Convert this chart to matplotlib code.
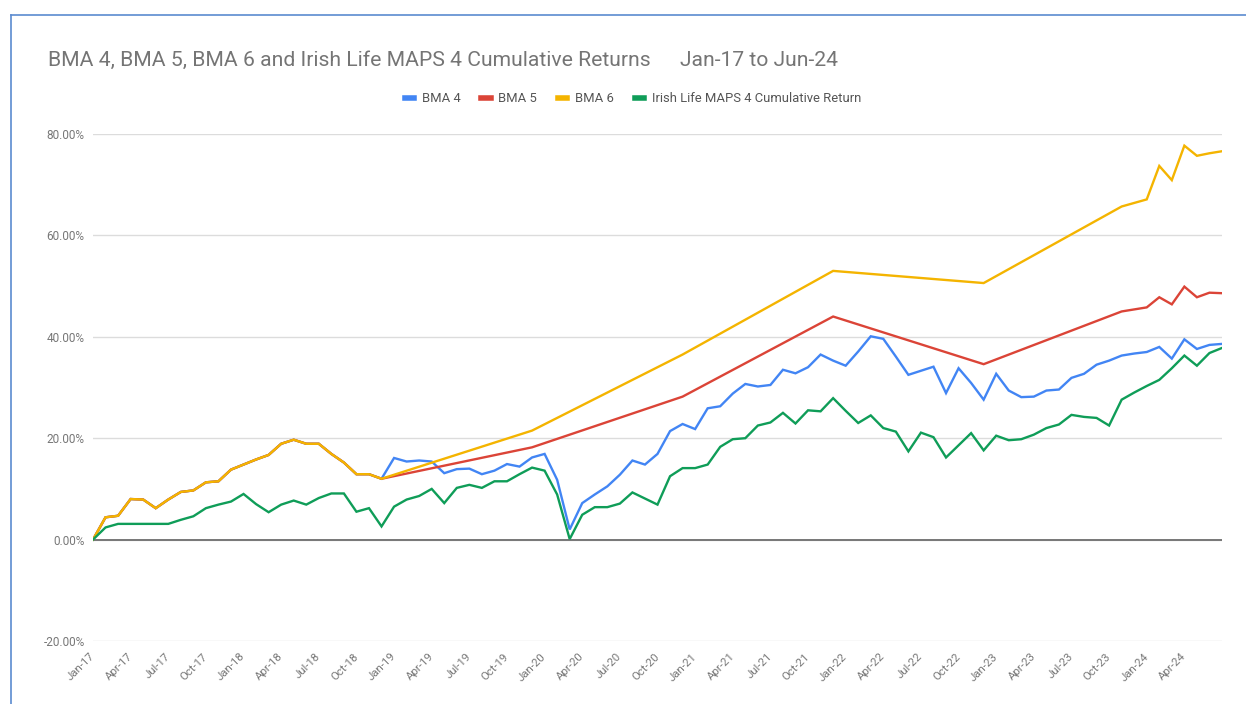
import numpy as np
import pandas as pd
import matplotlib
matplotlib.use("Agg")
from matplotlib import pyplot as plt
from matplotlib.lines import Line2D

plt.rcParams['font.family'] = ['Roboto', 'DejaVu Sans']

# monthly categories on the x axis
months = pd.date_range("2017-01-01", periods=91, freq="MS").strftime("%b-%y").tolist()

# Jan-17 .. Dec-18, the three BMA series share these values (drawn on top of each other)
bma_early = [0, 4.4, 4.7, 8.0, 7.9, 6.2, 7.9, 9.4, 9.7, 11.3, 11.5, 13.8,
             14.8, 15.8, 16.7, 18.9, 19.7, 18.9, 18.9, 16.9, 15.2, 12.9, 12.9, 12.0]

# BMA 4 from Jan-19 onwards (monthly)
bma4_late = [16.1, 15.4, 15.6, 15.4, 13.1, 13.9, 14.0, 12.9, 13.6, 14.9, 14.4, 16.2,
             16.9, 11.8, 2.0, 7.2, 8.9, 10.5, 12.8, 15.6, 14.8, 16.9, 21.4, 22.8,
             21.8, 25.9, 26.3, 28.8, 30.7, 30.2, 30.5, 33.5, 32.8, 34.0, 36.5, 35.3,
             34.3, 37.1, 40.1, 39.6, 36.1, 32.5, 33.3, 34.1, 28.9, 33.8, 30.9, 27.6,
             32.7, 29.4, 28.1, 28.2, 29.4, 29.6, 31.9, 32.7, 34.5, 35.3, 36.3, 36.7,
             37.0, 38.0, 35.7, 39.5, 37.6, 38.4, 38.6]

# BMA 5 / BMA 6 only have sparse points after Dec-18 (gaps are joined)
sparse_idx = [35, 47, 59, 71, 82, 84, 85, 86, 87, 88, 89, 90]
bma5_late = [18.2, 28.2, 44.0, 34.6, 45.0, 45.8, 47.8, 46.4, 49.9, 47.8, 48.7, 48.6]
bma6_late = [21.5, 36.5, 53.0, 50.6, 65.7, 67.1, 73.7, 70.9, 77.7, 75.7, 76.2, 76.6]

irish_life = [0, 2.4, 3.1, 3.1, 3.1, 3.1, 3.1, 3.9, 4.6, 6.2, 6.9, 7.5,
              9.0, 7.0, 5.4, 6.9, 7.7, 6.9, 8.2, 9.1, 9.1, 5.5, 6.2, 2.6,
              6.5, 7.9, 8.6, 10.0, 7.2, 10.2, 10.8, 10.2, 11.5, 11.5, 12.9, 14.2,
              13.6, 8.9, 0.1, 4.9, 6.4, 6.4, 7.1, 9.3, 8.1, 6.9, 12.5, 14.1,
              14.1, 14.8, 18.3, 19.8, 20.0, 22.5, 23.1, 25.0, 22.9, 25.5, 25.3, 27.9,
              25.4, 23.0, 24.5, 22.0, 21.3, 17.4, 21.1, 20.2, 16.2, 18.6, 21.0, 17.6,
              20.5, 19.6, 19.8, 20.7, 22.0, 22.7, 24.6, 24.2, 24.0, 22.5, 27.6, 29.0,
              30.3, 31.5, 33.8, 36.3, 34.3, 36.8, 37.8]

names = ['BMA 4', 'BMA 5', 'BMA 6', 'Irish Life MAPS 4 Cumulative Return']
colors = ['#4285F4', '#DB4437', '#F4B400', '#0F9D58']

early_x = list(range(len(bma_early)))
series = [
    (list(range(len(bma_early) + len(bma4_late))), bma_early + bma4_late),
    (early_x + sparse_idx, bma_early + bma5_late),
    (early_x + sparse_idx, bma_early + bma6_late),
    (list(range(len(irish_life))), irish_life),
]

fig = plt.figure(figsize=(12.46, 7.04), dpi=100)
ax = fig.add_axes([93 / 1246, 63 / 704, (1222 - 93) / 1246, (641 - 134) / 704])

for (x, y), c in zip(series, colors):
    ax.plot(x, y, color=c, lw=1.7, solid_joinstyle='miter', zorder=3)

ax.set_xlim(0, 90)
ax.set_ylim(-20, 80)
ax.set_yticks([-20, 0, 20, 40, 60, 80])
ax.set_yticklabels([f"{v:.2f}%" for v in [-20, 0, 20, 40, 60, 80]])
ax.grid(axis='y', color='#dcdcdc', lw=1)
ax.axhline(0, color='#777777', lw=1.4, zorder=2)

ticks = list(range(0, 88, 3))
ax.set_xticks(ticks)
ax.set_xticklabels([months[i] for i in ticks], rotation=45, ha='right',
                   va='center', rotation_mode='anchor')
ax.tick_params(axis='both', length=0, labelcolor='#777777')
ax.tick_params(axis='x', pad=10, labelsize=8.2)
ax.tick_params(axis='y', pad=6, labelsize=8.5)
for s in ax.spines.values():
    s.set_visible(False)

fig.text(48 / 1246, 1 - 60 / 704,
         "BMA 4, BMA 5, BMA 6 and Irish Life MAPS 4 Cumulative Returns",
         fontsize=15.2, color='#757575', va='center')
fig.text(680 / 1246, 1 - 60 / 704, "Jan-17 to Jun-24",
         fontsize=15.2, color='#757575', va='center')

handles = [Line2D([], [], color=c, lw=4) for c in colors]
fig.legend(handles, names, loc='center', bbox_to_anchor=(633 / 1246, 1 - 99 / 704),
           ncol=4, frameon=False, fontsize=9.4, handlelength=0.7, handletextpad=0.6,
           columnspacing=1.6, labelcolor='#555555')

# thin blue frame at the left/top edges of the screenshot
fig.add_artist(Line2D([11 / 1246, 11 / 1246], [0, 1 - 15 / 704], color='#5b8bd0', lw=1.2))
fig.add_artist(Line2D([11 / 1246, 1], [1 - 15 / 704, 1 - 15 / 704], color='#5b8bd0', lw=1.2))

fig.savefig("out.png", dpi=100)
